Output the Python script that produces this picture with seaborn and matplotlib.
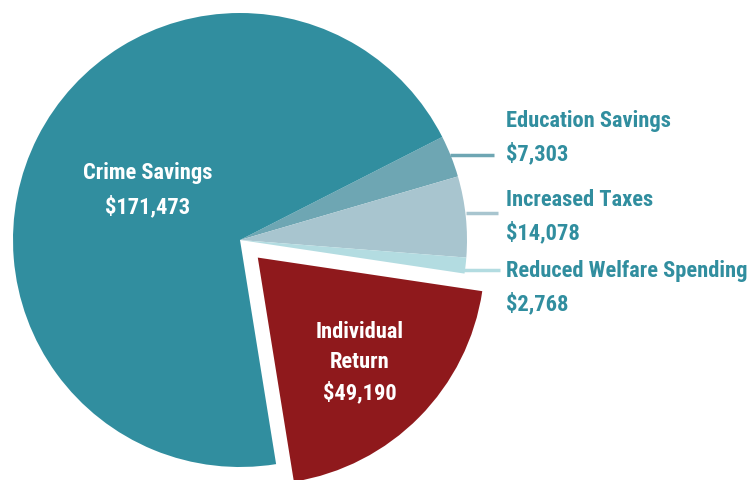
import matplotlib
matplotlib.use("Agg")
import matplotlib.pyplot as plt
import seaborn as sns
from matplotlib import font_manager

sns.set_theme(style="white")

# ---- data ----
categories = ["Education Savings", "Increased Taxes", "Reduced Welfare Spending",
              "Individual Return", "Crime Savings"]
values = [7303, 14078, 2768, 49190, 171473]
value_labels = ["$7,303", "$14,078", "$2,768", "$49,190", "$171,473"]
colors = ["#6ea6b3", "#a8c5cf", "#b3dce1", "#8f191c", "#318e9f"]

avail = {f.name for f in font_manager.fontManager.ttflist}
fam = [f for f in ["Liberation Sans Narrow", "Roboto Condensed", "Open Sans Condensed",
                   "Roboto", "DejaVu Sans"] if f in avail]
plt.rcParams['font.family'] = fam

fig = plt.figure(figsize=(7.55, 4.8), dpi=100)
ax = fig.add_axes([0, 0, 1, 1])

cx, cy, R = 240, 240, 227
explode = [0, 0, 0, 25, 0]  # offset in axis (pixel) units
wedges, _ = ax.pie(values, colors=colors, explode=explode, startangle=27,
                   counterclock=False, radius=R, center=(cx, cy),
                   wedgeprops=dict(linewidth=0))
ax.set_xlim(0, 755)
ax.set_ylim(0, 480)
ax.set_aspect('equal')
ax.axis('off')

def Y(y):  # image-pixel y to data y
    return 480 - y

fs = 16.2
teal = "#318e9f"
# Inside labels
ax.text(148, Y(173), "Crime Savings", color="white", fontsize=fs, fontweight="bold",
        ha="center", va="center", fontstretch="condensed")
ax.text(148, Y(207), value_labels[4], color="white", fontsize=fs, fontweight="bold",
        ha="center", va="center", fontstretch="condensed")
for i, yy in enumerate([332, 362, 393]):
    txt = ["Individual", "Return", value_labels[3]][i]
    ax.text(360, Y(yy), txt, color="white", fontsize=fs, fontweight="bold",
            ha="center", va="center", fontstretch="condensed")

# Outside labels with leader lines
outside = [(0, 121, 155, 450, 494), (1, 200, 213, 466, 498), (2, 271, 270, 463, 500)]
for idx, ytitle, yline, x0, x1 in outside:
    ax.plot([x0, x1], [Y(yline), Y(yline)], color=colors[idx], lw=2.5,
            solid_capstyle="butt")
    ax.text(506, Y(ytitle), categories[idx], color=teal, fontsize=fs, fontweight="bold",
            ha="left", va="center", fontstretch="condensed")
    ax.text(506, Y(ytitle + 33), value_labels[idx], color=teal, fontsize=fs,
            fontweight="bold", ha="left", va="center", fontstretch="condensed")

fig.savefig("out.png", dpi=100)
